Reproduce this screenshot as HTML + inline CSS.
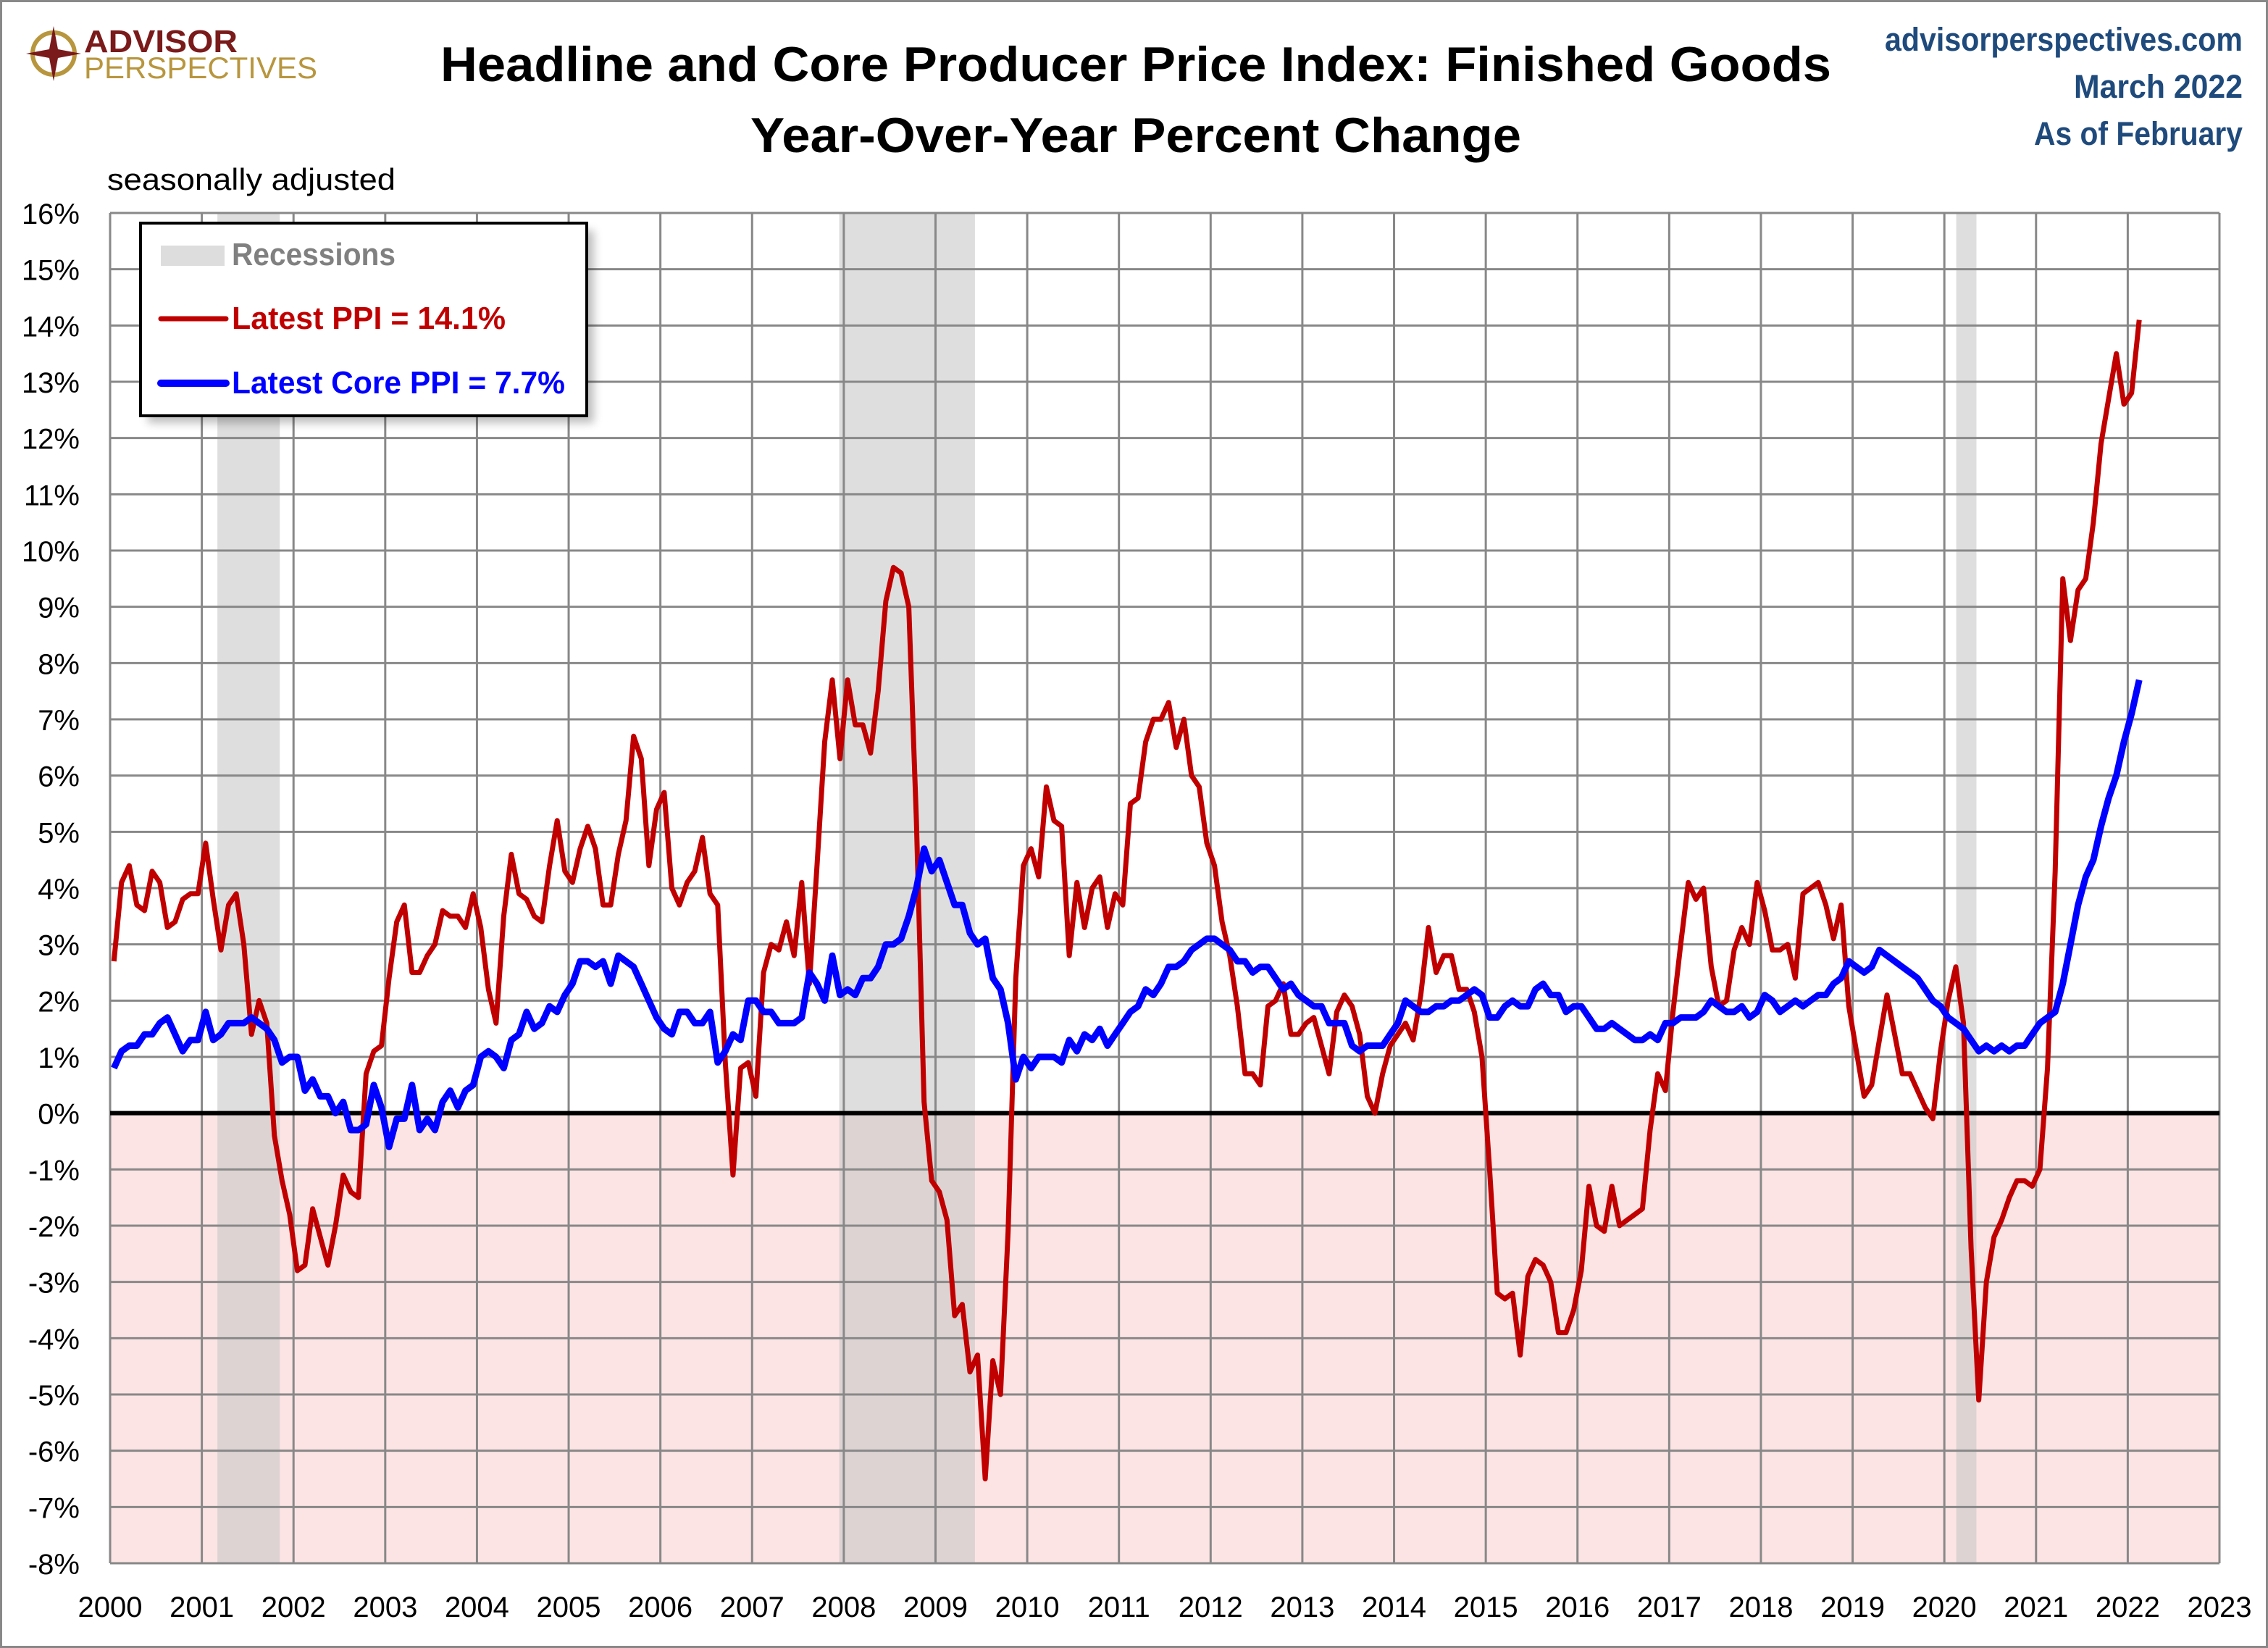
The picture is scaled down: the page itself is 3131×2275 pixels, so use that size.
<!DOCTYPE html>
<html><head><meta charset="utf-8"><style>
html,body{margin:0;padding:0;background:#fff;}
svg{display:block;font-family:"Liberation Sans",sans-serif;}
</style></head><body>
<svg id="chart" width="3131" height="2275" viewBox="0 0 3131 2275" xmlns="http://www.w3.org/2000/svg">
<rect x="1.5" y="1.5" width="3128" height="2272" fill="#fff" stroke="#888" stroke-width="3"/>
<g>
<circle cx="74" cy="74" r="29" fill="none" stroke="#b8963e" stroke-width="6"/>
<polygon points="74,36 80,68 112,74 80,80 74,112 68,80 36,74 68,68" fill="#7a1a1a"/>
<text x="116" y="72" font-size="44" font-weight="bold" fill="#7a1a1a" textLength="212" lengthAdjust="spacingAndGlyphs">ADVISOR</text>
<text x="116" y="108" font-size="42" fill="#b8963e" textLength="322" lengthAdjust="spacingAndGlyphs">PERSPECTIVES</text>
</g>
<text x="1568" y="112" font-size="68" font-weight="bold" text-anchor="middle" textLength="1920" lengthAdjust="spacingAndGlyphs">Headline and Core Producer Price Index: Finished Goods</text>
<text x="1568" y="210" font-size="68" font-weight="bold" text-anchor="middle" textLength="1064" lengthAdjust="spacingAndGlyphs">Year-Over-Year Percent Change</text>
<g font-size="45" font-weight="bold" fill="#1f4a7c" text-anchor="end">
<text x="3096" y="70" textLength="494" lengthAdjust="spacingAndGlyphs">advisorperspectives.com</text>
<text x="3096" y="135" textLength="233" lengthAdjust="spacingAndGlyphs">March 2022</text>
<text x="3096" y="200" textLength="288" lengthAdjust="spacingAndGlyphs">As of February</text>
</g>
<text x="148" y="262" font-size="42" textLength="398" lengthAdjust="spacingAndGlyphs">seasonally adjusted</text>
<g id="plot"></g>
<g id="legend">
<rect x="204" y="318" width="616" height="266" fill="#000" opacity="0.25" filter="blur(6px)"/>
<rect x="194" y="308" width="616" height="266" fill="#fff" stroke="#000" stroke-width="4"/>
<rect x="222" y="339" width="88" height="28" fill="#ddd"/>
<text x="320" y="366" font-size="44" font-weight="bold" fill="#808080" textLength="226" lengthAdjust="spacingAndGlyphs">Recessions</text>
<line x1="222" y1="440" x2="312" y2="440" stroke="#c00000" stroke-width="7" stroke-linecap="round"/>
<text x="320" y="454" font-size="44" font-weight="bold" fill="#c00000" textLength="378" lengthAdjust="spacingAndGlyphs">Latest PPI = 14.1%</text>
<line x1="222" y1="529" x2="312" y2="529" stroke="#0000ff" stroke-width="10" stroke-linecap="round"/>
<text x="320" y="543" font-size="44" font-weight="bold" fill="#0000ff" textLength="460" lengthAdjust="spacingAndGlyphs">Latest Core PPI = 7.7%</text>
</g>
</svg>
<script>
const startYear = 2000;
const yearTicks = [2000,2001,2002,2003,2004,2005,2006,2007,2008,2009,2010,2011,2012,2013,2014,2015,2016,2017,2018,2019,2020,2021,2022,2023];
const yTicks = [-8,-7,-6,-5,-4,-3,-2,-1,0,1,2,3,4,5,6,7,8,9,10,11,12,13,14,15,16];
const recessionStarts = [2001.17, 2007.95, 2020.13];
const recessionEnds = [2001.85, 2009.43, 2020.35];
const ppi = [
2.7,4.1,4.4,3.7,3.6,4.3,4.1,3.3,3.4,3.8,3.9,3.9,
4.8,3.8,2.9,3.7,3.9,3.0,1.4,2.0,1.6,-0.4,-1.2,-1.8,
-2.8,-2.7,-1.7,-2.2,-2.7,-2.0,-1.1,-1.4,-1.5,0.7,1.1,1.2,
2.4,3.4,3.7,2.5,2.5,2.8,3.0,3.6,3.5,3.5,3.3,3.9,
3.3,2.2,1.6,3.5,4.6,3.9,3.8,3.5,3.4,4.4,5.2,4.3,
4.1,4.7,5.1,4.7,3.7,3.7,4.6,5.2,6.7,6.3,4.4,5.4,
5.7,4.0,3.7,4.1,4.3,4.9,3.9,3.7,0.9,-1.1,0.8,0.9,
0.3,2.5,3.0,2.9,3.4,2.8,4.1,2.3,4.4,6.6,7.7,6.3,
7.7,6.9,6.9,6.4,7.5,9.1,9.7,9.6,9.0,5.2,0.2,-1.2,
-1.4,-1.9,-3.6,-3.4,-4.6,-4.3,-6.5,-4.4,-5.0,-2.1,2.4,4.4,
4.7,4.2,5.8,5.2,5.1,2.8,4.1,3.3,4.0,4.2,3.3,3.9,
3.7,5.5,5.6,6.6,7.0,7.0,7.3,6.5,7.0,6.0,5.8,4.8,
4.4,3.4,2.8,1.9,0.7,0.7,0.5,1.9,2.0,2.3,1.4,1.4,
1.6,1.7,1.2,0.7,1.8,2.1,1.9,1.4,0.3,0.0,0.7,1.2,
1.4,1.6,1.3,2.1,3.3,2.5,2.8,2.8,2.2,2.2,1.8,1.0,
-1.0,-3.2,-3.3,-3.2,-4.3,-2.9,-2.6,-2.7,-3.0,-3.9,-3.9,-3.5,
-2.8,-1.3,-2.0,-2.1,-1.3,-2.0,-1.9,-1.8,-1.7,-0.3,0.7,0.4,
1.8,3.0,4.1,3.8,4.0,2.6,1.9,2.0,2.9,3.3,3.0,4.1,
3.6,2.9,2.9,3.0,2.4,3.9,4.0,4.1,3.7,3.1,3.7,1.9,
1.1,0.3,0.5,1.3,2.1,1.4,0.7,0.7,0.4,0.1,-0.1,1.1,
2.0,2.6,1.6,-2.4,-5.1,-3.0,-2.2,-1.9,-1.5,-1.2,-1.2,-1.3,
-1.0,0.8,4.3,9.5,8.4,9.3,9.5,10.5,11.9,12.7,13.5,12.6,
12.8,14.1];
const corePpi = [
0.8,1.1,1.2,1.2,1.4,1.4,1.6,1.7,1.4,1.1,1.3,1.3,
1.8,1.3,1.4,1.6,1.6,1.6,1.7,1.6,1.5,1.3,0.9,1.0,
1.0,0.4,0.6,0.3,0.3,0.0,0.2,-0.3,-0.3,-0.2,0.5,0.1,
-0.6,-0.1,-0.1,0.5,-0.3,-0.1,-0.3,0.2,0.4,0.1,0.4,0.5,
1.0,1.1,1.0,0.8,1.3,1.4,1.8,1.5,1.6,1.9,1.8,2.1,
2.3,2.7,2.7,2.6,2.7,2.3,2.8,2.7,2.6,2.3,2.0,1.7,
1.5,1.4,1.8,1.8,1.6,1.6,1.8,0.9,1.1,1.4,1.3,2.0,
2.0,1.8,1.8,1.6,1.6,1.6,1.7,2.5,2.3,2.0,2.8,2.1,
2.2,2.1,2.4,2.4,2.6,3.0,3.0,3.1,3.5,4.0,4.7,4.3,
4.5,4.1,3.7,3.7,3.2,3.0,3.1,2.4,2.2,1.6,0.6,1.0,
0.8,1.0,1.0,1.0,0.9,1.3,1.1,1.4,1.3,1.5,1.2,1.4,
1.6,1.8,1.9,2.2,2.1,2.3,2.6,2.6,2.7,2.9,3.0,3.1,
3.1,3.0,2.9,2.7,2.7,2.5,2.6,2.6,2.4,2.2,2.3,2.1,
2.0,1.9,1.9,1.6,1.6,1.6,1.2,1.1,1.2,1.2,1.2,1.4,
1.6,2.0,1.9,1.8,1.8,1.9,1.9,2.0,2.0,2.1,2.2,2.1,
1.7,1.7,1.9,2.0,1.9,1.9,2.2,2.3,2.1,2.1,1.8,1.9,
1.9,1.7,1.5,1.5,1.6,1.5,1.4,1.3,1.3,1.4,1.3,1.6,
1.6,1.7,1.7,1.7,1.8,2.0,1.9,1.8,1.8,1.9,1.7,1.8,
2.1,2.0,1.8,1.9,2.0,1.9,2.0,2.1,2.1,2.3,2.4,2.7,
2.6,2.5,2.6,2.9,2.8,2.7,2.6,2.5,2.4,2.2,2.0,1.9,
1.7,1.6,1.5,1.3,1.1,1.2,1.1,1.2,1.1,1.2,1.2,1.4,
1.6,1.7,1.8,2.3,3.0,3.7,4.2,4.5,5.1,5.6,6.0,6.6,
7.1,7.7];

const NS = "http://www.w3.org/2000/svg";
const L = 152, R = 3064, T = 294, B = 2158;
const yMin = -8, yMax = 16, xMin = 2000, xMax = 2023;
function xs(t){ return L + (t - xMin) / (xMax - xMin) * (R - L); }
function ys(v){ return B - (v - yMin) / (yMax - yMin) * (B - T); }
const plot = document.getElementById('plot');
function mk(tag, attrs, parent){ const e = document.createElementNS(NS, tag); for (const k in attrs) e.setAttribute(k, attrs[k]); (parent||plot).appendChild(e); return e; }

const bg = mk('rect', {x:L, y:ys(0), width:R-L, height:ys(yMin)-ys(0), fill:'#fde4e4'});



for (let i = 0; i < recessionStarts.length; i++) {
  const r = mk('rect', {x:xs(recessionStarts[i]), y:T, width:xs(recessionEnds[i])-xs(recessionStarts[i]), height:B-T, fill:'#c8c8c8', opacity:'0.6'});
  
  
}

yTicks.forEach(v => {
  const g = mk('line', {x1:L, x2:R, y1:ys(v), y2:ys(v), stroke:'#888', 'stroke-width':3});
  
  
  const t = mk('text', {x:110, y:ys(v)+15, 'font-size':40, 'text-anchor':'end'});
  t.textContent = v + '%';
  
  
});
yearTicks.forEach(yr => {
  const g = mk('line', {x1:xs(yr), x2:xs(yr), y1:T, y2:B, stroke:'#888', 'stroke-width':3});
  
  
  const t = mk('text', {x:xs(yr), y:2232, 'font-size':40, 'text-anchor':'middle'});
  t.textContent = yr;
  
  
});
const zl = mk('line', {x1:L, x2:R, y1:ys(0), y2:ys(0), stroke:'#000', 'stroke-width':6});



function linePath(arr){ return arr.map((v,i) => (i?'L':'M') + xs(startYear + (i+0.5)/12).toFixed(1) + ',' + ys(v).toFixed(1)).join(' '); }
const p1 = mk('path', {d:linePath(ppi), fill:'none', stroke:'#c00000', 'stroke-width':7, 'stroke-linejoin':'round'});


const p2 = mk('path', {d:linePath(corePpi), fill:'none', stroke:'#0000ff', 'stroke-width':9, 'stroke-linejoin':'round'});


</script>
</body></html>
